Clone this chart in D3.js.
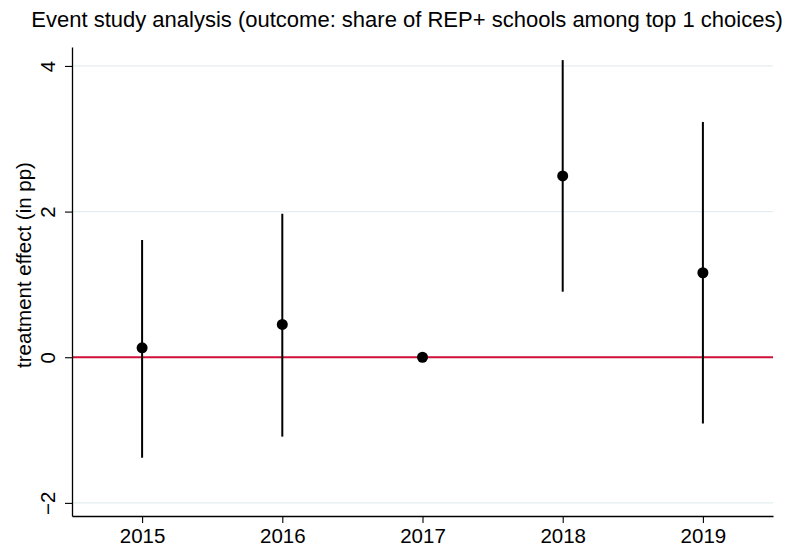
<!DOCTYPE html>
<html>
<head>
<meta charset="utf-8">
<script src="https://cdn.jsdelivr.net/npm/d3@7"></script>
<style>
  body { margin: 0; background: #fff; }
  text { font-family: "Liberation Sans", Arial, sans-serif; }
</style>
</head>
<body>
<svg id="chart"></svg>
<script>
// event study estimates (pp), 2017 is the reference year
const years = [2015, 2016, 2017, 2018, 2019]
const estimates = [0.13, 0.45, 0, 2.49, 1.16]
const ciLow = [-1.38, -1.09, 0, 0.90, -0.91]
const ciHigh = [1.61, 1.97, 0, 4.08, 3.23]
const yTicks = [-2, 0, 2, 4]

const width = 788, height = 548
const margin = {top: 47, right: 15, bottom: 32, left: 72}
const fontSize = 20.5

const svg = d3.select('#chart').attr('width', width).attr('height', height)

const x = d3.scaleLinear()
    .domain([2014.5, 2019.5])
    .range([margin.left, width - margin.right])
const y = d3.scaleLinear()
    .domain([-2.18, 4.26])
    .range([height - margin.bottom, margin.top])

// gridlines
svg.append('g').selectAll('line').data(yTicks).enter().append('line')
    .attr('x1', margin.left).attr('x2', width - margin.right)
    .attr('y1', d => y(d)).attr('y2', d => y(d))
    .attr('stroke', '#e4eef0').attr('stroke-width', 1.2)

// zero line
svg.append('line')
    .attr('x1', margin.left).attr('x2', width - margin.right)
    .attr('y1', y(0)).attr('y2', y(0))
    .attr('stroke', '#d0103a').attr('stroke-width', 1.8)

// axes
const yAxis = svg.append('g')
    .attr('transform', `translate(${margin.left},0)`)
    .call(d3.axisLeft(y).tickValues(yTicks).tickSize(7).tickSizeOuter(0).tickFormat(d3.format('d')))
yAxis.select('.domain').attr('stroke', '#000').attr('stroke-width', 1.3)
yAxis.selectAll('.tick line').attr('stroke', '#000').attr('stroke-width', 1.1)
yAxis.selectAll('.tick text')
    .attr('font-size', fontSize).attr('fill', '#000')
    .attr('transform', 'rotate(-90)')
    .attr('x', 0).attr('y', -17).attr('dy', '0').attr('text-anchor', 'middle')

const xAxis = svg.append('g')
    .attr('transform', `translate(0,${height - margin.bottom})`)
    .call(d3.axisBottom(x).tickValues(years).tickSize(7).tickSizeOuter(0).tickFormat(d3.format('d')))
xAxis.select('.domain').attr('stroke', '#000').attr('stroke-width', 1.3)
xAxis.selectAll('.tick line').attr('stroke', '#000').attr('stroke-width', 1.1)
xAxis.selectAll('.tick text')
    .attr('font-size', fontSize).attr('fill', '#000')
    .attr('y', 27).attr('dy', '0')

// confidence intervals
svg.append('g').selectAll('line').data(years).enter().append('line')
    .attr('x1', d => x(d)).attr('x2', d => x(d))
    .attr('y1', (d, i) => y(ciLow[i])).attr('y2', (d, i) => y(ciHigh[i]))
    .attr('stroke', '#000').attr('stroke-width', 2)

// point estimates
svg.append('g').selectAll('circle').data(years).enter().append('circle')
    .attr('cx', d => x(d)).attr('cy', (d, i) => y(estimates[i]))
    .attr('r', 5.5).attr('fill', '#000')

// y title
svg.append('text')
    .attr('transform', 'translate(31,265) rotate(-90)')
    .attr('text-anchor', 'middle')
    .attr('font-size', fontSize)
    .text('treatment effect (in pp)')

// title
svg.append('text')
    .attr('x', 407).attr('y', 26.5)
    .attr('text-anchor', 'middle')
    .attr('font-size', 22)
    .text('Event study analysis (outcome: share of REP+ schools among top 1 choices)')
</script>
</body>
</html>
